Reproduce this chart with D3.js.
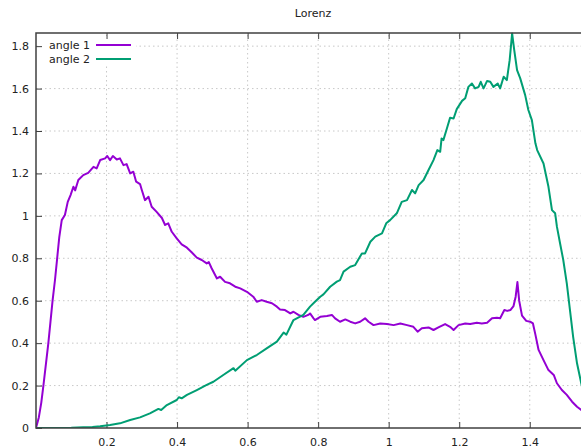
<!DOCTYPE html>
<html><head><meta charset="utf-8">
<script src="https://cdn.jsdelivr.net/npm/d3@7"></script>
<style>body{margin:0;background:#fff;overflow:hidden} svg{display:block}</style>
</head><body>
<svg id="c" width="581" height="447"></svg>
<script>
const title = "Lorenz";
const xTicks = [0.2, 0.4, 0.6, 0.8, 1, 1.2, 1.4];
const xTickLabels = ["0.2", "0.4", "0.6", "0.8", "1", "1.2", "1.4"];
const yTicks = [0, 0.2, 0.4, 0.6, 0.8, 1, 1.2, 1.4, 1.6, 1.8];
const yTickLabels = ["0", "0.2", "0.4", "0.6", "0.8", "1", "1.2", "1.4", "1.6", "1.8"];
const seriesNames = ["angle 1", "angle 2"];
const seriesColors = ["#9400d3", "#009e73"];
const xDomain = [0, Math.PI / 2];
const yDomain = [0, 1.862];

const angle1 = [[0,0],[0.008,0.05],[0.015,0.12],[0.021,0.2],[0.028,0.3],[0.035,0.4],[0.041,0.5],[0.047,0.6],[0.054,0.7],[0.060,0.8],[0.066,0.9],[0.073,0.98],[0.082,1.004],[0.090,1.066],[0.098,1.098],[0.106,1.137],[0.111,1.12],[0.120,1.169],[0.134,1.192],[0.148,1.203],[0.163,1.231],[0.172,1.224],[0.182,1.263],[0.196,1.271],[0.202,1.282],[0.210,1.263],[0.218,1.282],[0.229,1.266],[0.238,1.271],[0.248,1.239],[0.257,1.244],[0.267,1.200],[0.276,1.208],[0.284,1.161],[0.295,1.150],[0.300,1.122],[0.309,1.074],[0.319,1.090],[0.328,1.043],[0.342,1.019],[0.357,0.990],[0.366,0.957],[0.375,0.965],[0.385,0.925],[0.399,0.894],[0.413,0.866],[0.428,0.850],[0.442,0.827],[0.456,0.803],[0.470,0.792],[0.484,0.776],[0.490,0.782],[0.498,0.753],[0.513,0.705],[0.522,0.713],[0.536,0.689],[0.550,0.682],[0.565,0.666],[0.579,0.658],[0.598,0.642],[0.616,0.619],[0.626,0.595],[0.640,0.603],[0.654,0.595],[0.669,0.588],[0.683,0.572],[0.692,0.559],[0.706,0.556],[0.721,0.540],[0.730,0.548],[0.744,0.533],[0.758,0.524],[0.772,0.533],[0.777,0.540],[0.787,0.517],[0.791,0.509],[0.806,0.524],[0.825,0.528],[0.839,0.533],[0.848,0.517],[0.862,0.501],[0.877,0.512],[0.891,0.501],[0.905,0.493],[0.919,0.501],[0.933,0.517],[0.943,0.501],[0.957,0.485],[0.976,0.493],[0.995,0.490],[1.014,0.485],[1.033,0.493],[1.052,0.485],[1.070,0.477],[1.082,0.454],[1.094,0.470],[1.113,0.474],[1.127,0.462],[1.141,0.474],[1.160,0.490],[1.174,0.477],[1.184,0.462],[1.198,0.485],[1.217,0.493],[1.231,0.490],[1.250,0.496],[1.264,0.493],[1.279,0.496],[1.293,0.517],[1.307,0.520],[1.316,0.517],[1.328,0.556],[1.336,0.552],[1.345,0.556],[1.354,0.575],[1.360,0.619],[1.365,0.688],[1.370,0.600],[1.378,0.530],[1.390,0.505],[1.401,0.501],[1.409,0.493],[1.416,0.440],[1.425,0.368],[1.439,0.320],[1.453,0.273],[1.468,0.250],[1.477,0.211],[1.491,0.179],[1.505,0.156],[1.520,0.124],[1.534,0.100],[1.546,0.085],[1.558,0.065],[1.5708,0.05]];

const angle2 = [[0,0],[0.05,0.0],[0.10,0.001],[0.134,0.003],[0.16,0.005],[0.182,0.008],[0.210,0.014],[0.238,0.022],[0.267,0.038],[0.295,0.050],[0.323,0.069],[0.347,0.090],[0.355,0.085],[0.371,0.108],[0.399,0.132],[0.405,0.145],[0.413,0.140],[0.428,0.156],[0.456,0.179],[0.484,0.203],[0.503,0.218],[0.531,0.250],[0.560,0.282],[0.565,0.270],[0.598,0.320],[0.626,0.344],[0.654,0.375],[0.683,0.407],[0.702,0.450],[0.710,0.440],[0.730,0.509],[0.758,0.533],[0.777,0.572],[0.791,0.595],[0.806,0.619],[0.815,0.630],[0.834,0.666],[0.853,0.690],[0.862,0.697],[0.872,0.737],[0.891,0.760],[0.905,0.768],[0.924,0.823],[0.933,0.823],[0.948,0.878],[0.962,0.902],[0.981,0.917],[0.993,0.965],[1.004,0.980],[1.023,1.012],[1.037,1.066],[1.052,1.074],[1.066,1.122],[1.075,1.106],[1.085,1.145],[1.099,1.169],[1.113,1.216],[1.127,1.263],[1.138,1.310],[1.146,1.302],[1.150,1.365],[1.155,1.357],[1.165,1.412],[1.174,1.462],[1.184,1.459],[1.193,1.503],[1.208,1.542],[1.217,1.554],[1.226,1.608],[1.236,1.624],[1.245,1.601],[1.255,1.608],[1.261,1.632],[1.269,1.601],[1.279,1.636],[1.288,1.632],[1.297,1.608],[1.309,1.624],[1.316,1.601],[1.326,1.656],[1.335,1.640],[1.343,1.734],[1.350,1.860],[1.356,1.781],[1.364,1.687],[1.373,1.648],[1.387,1.569],[1.396,1.499],[1.406,1.451],[1.416,1.342],[1.421,1.310],[1.439,1.247],[1.453,1.137],[1.463,1.027],[1.472,1.012],[1.477,0.949],[1.486,0.870],[1.495,0.792],[1.505,0.682],[1.514,0.556],[1.523,0.430],[1.534,0.305],[1.546,0.211],[1.558,0.12],[1.5708,0.04]];

const series = [angle1, angle2];

const L = 36, R = 590, T = 33, B = 428;
const font = "'DejaVu Sans', sans-serif";
const svg = d3.select("#c");
const x = d3.scaleLinear().domain(xDomain).range([L, R]);
const y = d3.scaleLinear().domain(yDomain).range([B, T]);

// grid
const grid = svg.append("g").attr("stroke", "#c8c8c8").attr("stroke-width", 1).attr("stroke-dasharray", "1.5,3");
grid.selectAll(".gx").data(xTicks).join("line")
  .attr("x1", d => x(d)).attr("x2", d => x(d)).attr("y1", B).attr("y2", T);
grid.selectAll(".gy").data(yTicks.filter(d => d > 0)).join("line")
  .attr("x1", L).attr("x2", R).attr("y1", d => y(d)).attr("y2", d => y(d));

// opaque key area
svg.append("rect").attr("x", L + 3).attr("y", T + 3).attr("width", 97).attr("height", 30).attr("fill", "#fff");

// axes with d3 (ticks inside)
const axisColor = "#404040";
const styleAxis = g => {
  g.select(".domain").remove();
  g.selectAll(".tick line").attr("stroke", axisColor).attr("stroke-width", 1);
  g.selectAll(".tick text").attr("fill", "#222").style("font-family", font).style("font-size", "11px");
};
svg.append("g").attr("transform", `translate(0,${B})`)
  .call(d3.axisBottom(x).tickValues(xTicks).tickFormat((d, i) => xTickLabels[i]).tickSizeInner(-6).tickSizeOuter(0).tickPadding(10))
  .call(styleAxis);
svg.append("g").attr("transform", `translate(0,${T})`)
  .call(d3.axisTop(x).tickValues(xTicks).tickFormat("").tickSizeInner(-6).tickSizeOuter(0))
  .call(styleAxis);
svg.append("g").attr("transform", `translate(${L},0)`)
  .call(d3.axisLeft(y).tickValues(yTicks).tickFormat((d, i) => yTickLabels[i]).tickSizeInner(-6).tickSizeOuter(0).tickPadding(7))
  .call(styleAxis);

// lines
const line = d3.line().x(d => x(d[0])).y(d => y(d[1]));
svg.append("clipPath").attr("id", "pc").append("rect")
  .attr("x", L).attr("y", T - 1).attr("width", R - L).attr("height", B - T + 1);
series.forEach((s, i) => {
  svg.append("path").datum(s).attr("d", line).attr("fill", "none")
    .attr("stroke", seriesColors[i]).attr("stroke-width", 2).attr("stroke-linejoin", "round")
    .attr("clip-path", "url(#pc)");
});

// border
svg.append("rect").attr("x", L).attr("y", T).attr("width", R - L).attr("height", B - T)
  .attr("fill", "none").attr("stroke", axisColor).attr("stroke-width", 1.5);

// key
const key = svg.append("g");
seriesNames.forEach((n, i) => {
  const ky = 45 + i * 14;
  key.append("text").attr("x", 90).attr("y", ky).attr("dy", "0.35em").attr("text-anchor", "end")
    .attr("fill", "#222").style("font-family", font).style("font-size", "11px").text(n);
  key.append("line").attr("x1", 96).attr("x2", 131).attr("y1", ky).attr("y2", ky)
    .attr("stroke", seriesColors[i]).attr("stroke-width", 2);
});

// title
svg.append("text").attr("x", (L + R) / 2).attr("y", 17).attr("text-anchor", "middle")
  .attr("fill", "#222").style("font-family", font).style("font-size", "11px").text(title);
</script>
</body></html>
